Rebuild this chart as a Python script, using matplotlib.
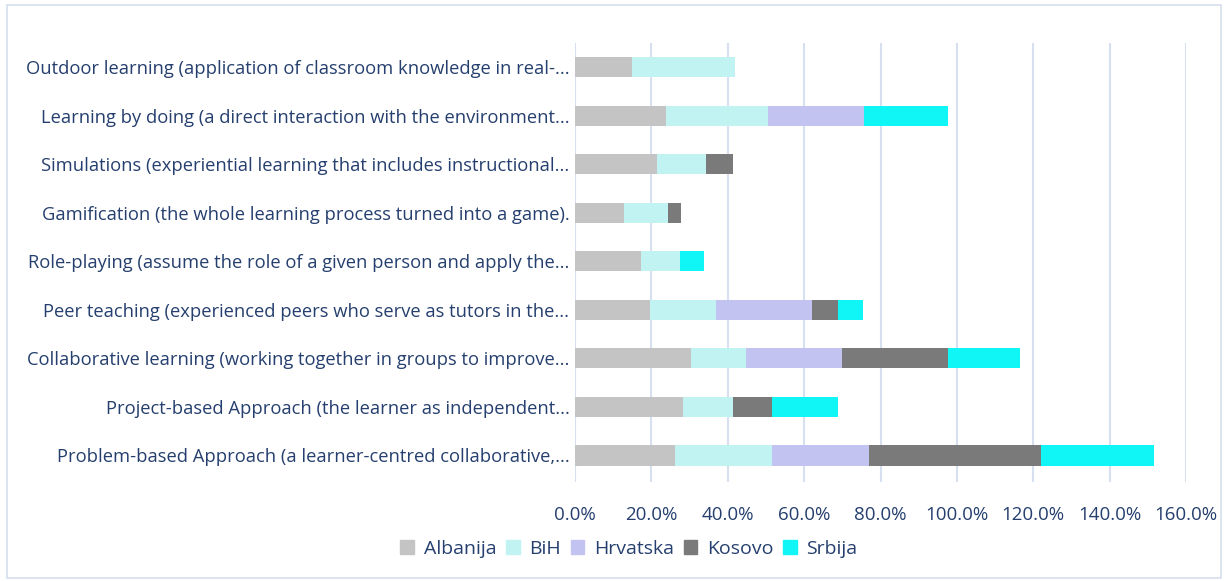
import matplotlib.pyplot as plt
import matplotlib.patches as mpatches
from matplotlib.ticker import FuncFormatter
import numpy as np

plt.rcParams['font.family'] = ['Open Sans', 'DejaVu Sans']

# categories, bottom to top
methods = [
    "Problem-based Approach (a learner-centred collaborative,...",
    "Project-based Approach (the learner as independent...",
    "Collaborative learning (working together in groups to improve...",
    "Peer teaching (experienced peers who serve as tutors in the...",
    "Role-playing (assume the role of a given person and apply the...",
    "Gamification (the whole learning process turned into a game).",
    "Simulations (experiential learning that includes instructional...",
    "Learning by doing (a direct interaction with the environment...",
    "Outdoor learning (application of classroom knowledge in real-...",
]
countries = ["Albanija", "BiH", "Hrvatska", "Kosovo", "Srbija"]

albanija = [26.1, 28.3, 30.3, 19.6, 17.4, 12.8, 21.6, 23.8, 15.0]
bih      = [25.5, 13.0, 14.4, 17.2, 10.0, 11.5, 12.8, 26.8, 27.0]
hrvatska = [25.3, 0.0, 25.2, 25.3, 0.0, 0.0, 0.0, 25.2, 0.0]
kosovo   = [45.2, 10.3, 27.7, 6.9, 0.0, 3.4, 6.9, 0.0, 0.0]
srbija   = [29.6, 17.4, 19.0, 6.4, 6.3, 0.0, 0.0, 21.9, 0.0]

colors = ["#c4c4c4", "#c2f3f3", "#c3c3f2", "#7a7a7a", "#10f5f5"]
txt = "#253f6e"

fig = plt.figure(figsize=(12.26, 5.81), dpi=100)
ax = fig.add_axes([575/1226, 1-482/581, (1186-575)/1226, (482-43)/581])

y = np.arange(len(methods))
left = np.zeros(len(methods))
for vals, c in zip([albanija, bih, hrvatska, kosovo, srbija], colors):
    v = np.array(vals) / 100
    ax.barh(y, v, left=left, height=0.42, color=c, zorder=3)
    left += v

ax.set_xlim(0, 1.6)
ax.set_ylim(-0.55, 8.5)
ax.set_xticks(np.arange(0, 1.61, 0.2))
ax.xaxis.set_major_formatter(FuncFormatter(lambda v, p: f"{v*100:.1f}%"))
ax.set_yticks(y)
ax.set_yticklabels(methods, fontsize=13.2, color=txt)
ax.tick_params(axis='x', labelsize=13.5, colors=txt, length=0, pad=17)
ax.tick_params(axis='y', length=0, pad=4)
ax.grid(axis='x', color="#d6e0f0", linewidth=1.5, zorder=0)
for s in ax.spines.values():
    s.set_visible(False)

handles = [mpatches.Patch(color=c, label=n) for c, n in zip(colors, countries)]
fig.legend(handles=handles, loc='center', bbox_to_anchor=(0.513, 0.055), ncol=5,
           frameon=False, fontsize=14, handlelength=0.7, handleheight=0.7,
           columnspacing=0.5, handletextpad=0.5, labelcolor=txt)

fig.patches.append(mpatches.Rectangle((0.006, 0.006), 0.99, 0.985, transform=fig.transFigure,
                                      fill=False, edgecolor="#d6dfee", linewidth=1.2))

fig.savefig("out.png", dpi=100)
